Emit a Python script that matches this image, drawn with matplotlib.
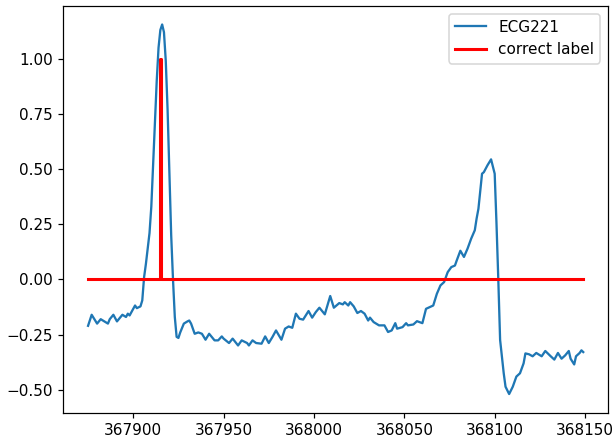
import matplotlib
matplotlib.use("Agg")
import matplotlib.pyplot as plt

ecg_x = [367875, 367877, 367880, 367882, 367886, 367887, 367889, 367891, 367894, 367896,
         367897, 367898, 367901, 367902, 367904, 367905, 367906, 367907, 367908, 367909,
         367910, 367911, 367912, 367913, 367914, 367915, 367916, 367917, 367918, 367919,
         367920, 367921, 367922, 367923, 367924, 367925, 367926, 367928, 367930, 367931,
         367932, 367934, 367936, 367938, 367940, 367942, 367945, 367947, 367949, 367950,
         367953, 367955, 367958, 367960, 367963, 367964, 367966, 367968, 367971, 367973,
         367975, 367977, 367979, 367982, 367984, 367986, 367988, 367990, 367992, 367994,
         367997, 367999, 368001, 368003, 368006, 368009, 368011, 368014, 368016, 368017,
         368019, 368020, 368022, 368024, 368026, 368028, 368030, 368031, 368033, 368036,
         368039, 368041, 368043, 368045, 368046, 368049, 368051, 368052, 368055, 368057,
         368060, 368062, 368066, 368068, 368070, 368072, 368074, 368076, 368078, 368079,
         368081, 368083, 368085, 368087, 368089, 368090, 368091, 368092, 368093, 368094,
         368096, 368098, 368100, 368101, 368102, 368103, 368105, 368106, 368108, 368110,
         368112, 368114, 368116, 368117, 368119, 368121, 368123, 368126, 368128, 368131,
         368133, 368135, 368137, 368139, 368141, 368142, 368144, 368145, 368147, 368148,
         368149]
ecg_y = [-0.21, -0.16, -0.20, -0.18, -0.20, -0.18, -0.16, -0.19, -0.16, -0.17,
         -0.155, -0.163, -0.118, -0.13, -0.122, -0.095, 0.01, 0.07, 0.14, 0.21,
         0.33, 0.52, 0.72, 0.90, 1.05, 1.13, 1.155, 1.12, 0.99, 0.77,
         0.48, 0.20, 0.0, -0.17, -0.26, -0.265, -0.24, -0.20, -0.19, -0.186,
         -0.20, -0.246, -0.24, -0.246, -0.273, -0.246, -0.276, -0.276, -0.258, -0.268,
         -0.288, -0.268, -0.299, -0.276, -0.288, -0.299, -0.276, -0.288, -0.291, -0.258,
         -0.288, -0.261, -0.231, -0.273, -0.223, -0.213, -0.219, -0.155, -0.178, -0.182,
         -0.143, -0.173, -0.148, -0.128, -0.158, -0.075, -0.128, -0.107, -0.113, -0.103,
         -0.118, -0.103, -0.122, -0.152, -0.143, -0.155, -0.186, -0.173, -0.193, -0.208,
         -0.208, -0.238, -0.231, -0.198, -0.223, -0.216, -0.198, -0.208, -0.204, -0.189,
         -0.198, -0.133, -0.118, -0.065, -0.027, -0.012, 0.033, 0.056, 0.063, 0.086,
         0.130, 0.102, 0.140, 0.185, 0.223, 0.276, 0.32, 0.40, 0.479, 0.486,
         0.517, 0.544, 0.479, 0.253, 0.0, -0.274, -0.425, -0.486, -0.519, -0.486,
         -0.44, -0.425, -0.38, -0.335, -0.339, -0.348, -0.333, -0.348, -0.324, -0.348,
         -0.363, -0.333, -0.359, -0.344, -0.324, -0.359, -0.385, -0.348, -0.333, -0.321,
         -0.329]

label_x = [367875, 367914.7, 367914.7, 367915.3, 367915.3, 368149]
label_y = [0, 0, 1, 1, 0, 0]

fig = plt.figure(figsize=(612 / 110, 442 / 110), dpi=110)
ax = fig.add_axes([63.3 / 612, 29.5 / 442, 544.7 / 612, 406.5 / 442])
ax.plot(ecg_x, ecg_y, color="#1f77b4", linewidth=1.5, label="ECG221")
ax.plot(label_x, label_y, color="red", linewidth=2, label="correct label")
ax.set_xticks([367900, 367950, 368000, 368050, 368100, 368150])
ax.set_yticks([-0.5, -0.25, 0.0, 0.25, 0.5, 0.75, 1.0])
ax.ticklabel_format(useOffset=False, style="plain", axis="x")
ax.legend(loc="upper right")
fig.savefig("out.png", dpi=110)
